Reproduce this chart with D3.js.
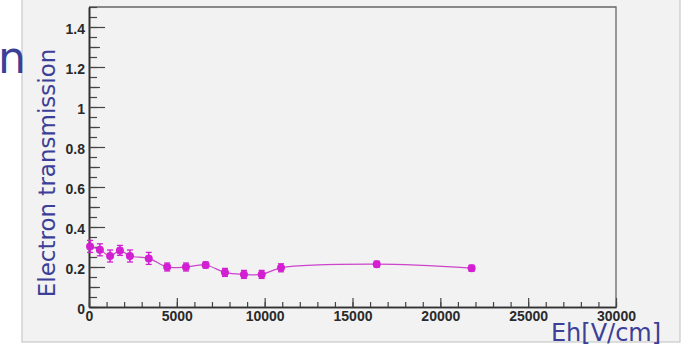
<!DOCTYPE html>
<html>
<head>
<meta charset="utf-8">
<script src="https://cdn.jsdelivr.net/npm/d3@7"></script>
<style>
    body { margin: 0; background: #fff; }
    svg { display: block; }
</style>
</head>
<body>
<div class="graph"></div>
<script>
// values
const ehValues = [60, 620, 1200, 1760, 2330, 3400, 4450, 5520, 6640, 7740, 8820, 9830, 10930, 16380, 21780];
const transmission = [0.303, 0.286, 0.255, 0.283, 0.255, 0.243, 0.2, 0.2, 0.21, 0.173, 0.163, 0.163, 0.196, 0.214, 0.194];
const errors = [0.03, 0.03, 0.03, 0.025, 0.03, 0.03, 0.02, 0.02, 0.015, 0.02, 0.02, 0.02, 0.02, 0.015, 0.015];

const xTicks = [0, 5000, 10000, 15000, 20000, 25000, 30000];
const yTicks = [0, 0.2, 0.4, 0.6, 0.8, 1, 1.2, 1.4];
const yMinor = d3.range(0, 1.5001, 0.05);
const yMid = d3.range(0.1, 1.5, 0.2);
const xMinor = d3.range(0, 30001, 1000);

const svgDim = {
    w: 695,
    h: 345
}
const frame = { left: 89, right: 616, top: 7, bottom: 307 }

const svg = d3.select('.graph')
    .append('svg')
    .attr('width', svgDim.w)
    .attr('height', svgDim.h);

// slide panel
svg.append('rect')
    .attr('x', 22).attr('y', -2)
    .attr('width', 658).attr('height', 344)
    .attr('fill', '#f2f2f2')
    .attr('stroke', '#c8c8c8')
    .attr('stroke-width', 1.2);

// clipped title letter from the slide
svg.append('text')
    .attr('x', 26).attr('y', 73)
    .attr('text-anchor', 'end')
    .style('font-family', 'DejaVu Sans')
    .style('font-size', '44px')
    .attr('fill', '#3b3f98')
    .text('n');

const xScale = d3.scaleLinear()
    .domain([0, 30000])
    .range([frame.left, frame.right]);

const yScale = d3.scaleLinear()
    .domain([0, 1.5])
    .range([frame.bottom, frame.top]);

// frame (top + right)
svg.append('path')
    .attr('d', `M${frame.left},${frame.top}H${frame.right}V${frame.bottom}`)
    .attr('fill', 'none')
    .attr('stroke', '#666')
    .attr('stroke-width', 1.3);

const styleAxis = (g) => {
    g.selectAll('.tick line').attr('stroke', '#444').attr('stroke-width', 1.2);
    g.select('.domain').attr('stroke', '#333').attr('stroke-width', 1.4);
    g.selectAll('text')
        .attr('fill', '#2a2a2a')
        .style('font-family', 'Liberation Sans, Arial')
        .style('font-weight', 'bold')
        .style('font-size', '14px');
}

// y minor ticks
svg.append('g')
    .attr('transform', `translate(${frame.left},0)`)
    .call(d3.axisLeft(yScale).tickValues(yMinor).tickSizeInner(-8).tickSizeOuter(0).tickFormat(''))
    .call(styleAxis);
svg.append('g')
    .attr('transform', `translate(${frame.left},0)`)
    .call(d3.axisLeft(yScale).tickValues(yMid).tickSizeInner(-11).tickSizeOuter(0).tickFormat(''))
    .call(styleAxis);

// y major
const yAxis = d3.axisLeft(yScale)
    .tickValues(yTicks)
    .tickSizeInner(-16)
    .tickSizeOuter(0)
    .tickPadding(4)
    .tickFormat(d3.format('~g'));
svg.append('g')
    .attr('transform', `translate(${frame.left},0)`)
    .call(yAxis)
    .call(styleAxis)
    .selectAll('text').attr('dy', '0.45em');

// x minor ticks
svg.append('g')
    .attr('transform', `translate(0,${frame.bottom})`)
    .call(d3.axisBottom(xScale).tickValues(xMinor).tickSizeInner(-5).tickSizeOuter(0).tickFormat(''))
    .call(styleAxis);

// x major
const xAxis = d3.axisBottom(xScale)
    .tickValues(xTicks)
    .tickSizeInner(-9)
    .tickSizeOuter(0)
    .tickPadding(4)
    .tickFormat(d3.format('d'));
svg.append('g')
    .attr('transform', `translate(0,${frame.bottom})`)
    .call(xAxis)
    .call(styleAxis);

// axis titles
svg.append('text')
    .attr('transform', `translate(55,173) rotate(-90)`)
    .attr('text-anchor', 'middle')
    .style('font-family', 'DejaVu Sans')
    .style('font-size', '23px')
    .attr('fill', '#3b3f98')
    .text('Electron transmission');

svg.append('text')
    .attr('x', 606).attr('y', 341)
    .attr('text-anchor', 'middle')
    .style('font-family', 'DejaVu Sans')
    .style('font-size', '24px')
    .attr('fill', '#3b3f98')
    .text('Eh[V/cm]');

// data
const points = ehValues.map((x, i) => ({ x: x, y: transmission[i], e: errors[i] }));
const color = '#d21fd2';

const line = d3.line()
    .x(d => xScale(d.x))
    .y(d => yScale(d.y))
    .curve(d3.curveCatmullRom.alpha(0.5));

svg.append('path')
    .datum(points)
    .attr('d', line)
    .attr('fill', 'none')
    .attr('stroke', '#cc44cc')
    .attr('stroke-width', 1.2);

const marks = svg.append('g').selectAll('g')
    .data(points)
    .enter()
    .append('g');

marks.append('line')
    .attr('x1', d => xScale(d.x)).attr('x2', d => xScale(d.x))
    .attr('y1', d => yScale(d.y - d.e)).attr('y2', d => yScale(d.y + d.e))
    .attr('stroke', color).attr('stroke-width', 1.5);

marks.selectAll('.cap')
    .data(d => [d.y - d.e, d.y + d.e].map(v => ({ x: d.x, v: v })))
    .enter()
    .append('line')
    .attr('class', 'cap')
    .attr('x1', d => xScale(d.x) - 3).attr('x2', d => xScale(d.x) + 3)
    .attr('y1', d => yScale(d.v)).attr('y2', d => yScale(d.v))
    .attr('stroke', color).attr('stroke-width', 1.3);

marks.append('circle')
    .attr('cx', d => xScale(d.x))
    .attr('cy', d => yScale(d.y))
    .attr('r', 4)
    .attr('fill', color);
</script>
</body>
</html>
